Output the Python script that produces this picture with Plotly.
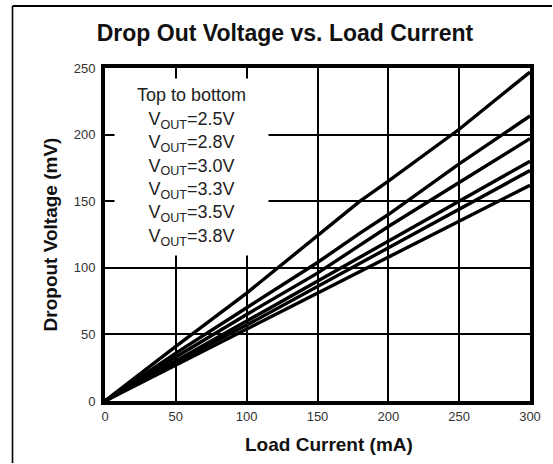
import plotly.graph_objects as go

# Load current (mA)
load_current = [0, 50, 100, 150, 180, 200, 250, 300]

# Dropout voltage (mV) per output voltage, top to bottom
v_2p5 = [0, 41, 81, 124, 150, 165, 204, 247]
v_2p8 = [0, 36, 70, 104, 126, 140, 178, 214]
v_3p0 = [0, 33, 65, 96, 117, 131, 164, 197]
v_3p3 = [0, 30, 60, 90, 108, 120, 150, 180]
v_3p5 = [0, 29, 57, 86, 104, 115, 144, 173]
v_3p8 = [0, 27, 54, 81, 97, 108, 135, 162]

series_names = ["2.5V", "2.8V", "3.0V", "3.3V", "3.5V", "3.8V"]
series_values = [v_2p5, v_2p8, v_3p0, v_3p3, v_3p5, v_3p8]

x_ticks = [0, 50, 100, 150, 200, 250, 300]
y_ticks = [0, 50, 100, 150, 200, 250]

FONT = "Arial, 'Liberation Sans', sans-serif"

fig = go.Figure()
for name, vals in zip(series_names, series_values):
    fig.add_trace(go.Scatter(
        x=load_current, y=vals, mode="lines", name=name,
        line=dict(color="black", width=3.4),
        showlegend=False, cliponaxis=True,
    ))

legend_text = "Top to bottom<br>" + "<br>".join(
    "V<sub>OUT</sub>=" + n for n in series_names)

fig.add_annotation(
    x=61, y=176, xref="x", yref="y", text=legend_text,
    showarrow=False, xanchor="center", yanchor="middle",
    width=153, height=176, bgcolor="white", borderpad=0,
    align="center", valign="middle",
    font=dict(family=FONT, size=18, color="#222"),
)

# x-axis title placed as in the reference (slightly right of centre)
fig.add_annotation(
    x=(329 - 105) / 425, y=(401 - 445) / 333, xref="paper", yref="paper",
    text="<b>Load Current (mA)</b>", showarrow=False,
    xanchor="center", yanchor="middle",
    font=dict(family=FONT, size=19, color="#111"),
)

# outer figure border (left and top edges visible in the crop)
bx0 = (12.5 - 105) / 425
by1 = (401 - 6) / 333
fig.add_shape(type="line", xref="paper", yref="paper",
              x0=bx0, x1=(552 - 105) / 425, y0=by1, y1=by1,
              line=dict(color="black", width=2), layer="above")
fig.add_shape(type="line", xref="paper", yref="paper",
              x0=bx0, x1=bx0, y0=(401 - 463) / 333, y1=by1,
              line=dict(color="black", width=1.6), layer="above")

fig.update_layout(
    width=553, height=464,
    margin=dict(l=105, r=23, t=68, b=63),
    paper_bgcolor="white", plot_bgcolor="white",
    title=dict(text="<b>Drop Out Voltage vs. Load Current</b>",
               x=285 / 553, xref="container", xanchor="center",
               y=1 - 33 / 464, yref="container", yanchor="middle",
               font=dict(family=FONT, size=23, color="#111")),
    xaxis=dict(
        range=[0, 300], tickvals=x_ticks, ticks="", showgrid=True,
        gridcolor="black", gridwidth=2, zeroline=False,
        showline=True, linecolor="black", linewidth=4, mirror=True,
        tickfont=dict(family=FONT, size=13, color="#333"),
    ),
    yaxis=dict(
        range=[0, 250], tickvals=y_ticks, ticks="", showgrid=True,
        gridcolor="black", gridwidth=2, zeroline=False,
        showline=True, linecolor="black", linewidth=4, mirror=True,
        tickfont=dict(family=FONT, size=13, color="#333"),
        ticklabelstandoff=3,
        title=dict(text="<b>Dropout Voltage (mV)</b>", standoff=12,
                   font=dict(family=FONT, size=19, color="#111")),
    ),
)

fig.write_html("out.html",
               config={"displayModeBar": False},
               post_script="document.body.style.margin='0';")
